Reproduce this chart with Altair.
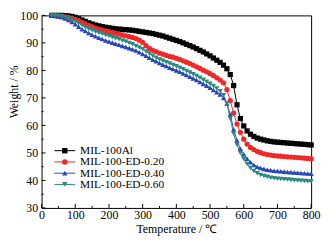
import altair as alt
import pandas as pd

temps = list(range(30, 801, 10))

mil100al = [100, 100, 100, 100, 99.9, 99.8, 99.6, 99.3, 98.8, 98.3,
            97.8, 97.3, 96.9, 96.5, 96.2, 95.9, 95.7, 95.5, 95.3, 95.1,
            95.0, 94.9, 94.8, 94.7, 94.6, 94.4, 94.2, 94.0, 93.8, 93.6,
            93.4, 93.1, 92.8, 92.5, 92.1, 91.7, 91.3, 90.9, 90.5, 90.0,
            89.5, 89.0, 88.5, 87.9, 87.3, 86.7, 86.0, 85.3, 84.5, 83.7,
            82.9, 81.9, 80.6, 78.5, 74.5, 67.5, 62.5, 59.8, 58.0, 56.8,
            56.0, 55.4, 55.0, 54.7, 54.4, 54.2, 54.0, 53.9, 53.8, 53.7,
            53.6, 53.5, 53.4, 53.3, 53.2, 53.1, 53.0, 52.9]

ed020 = [100, 99.9, 99.8, 99.7, 99.5, 99.3, 99.0, 98.6, 98.1, 97.5,
         96.9, 96.4, 95.9, 95.4, 95.0, 94.7, 94.4, 94.1, 93.8, 93.5,
         93.2, 92.9, 92.6, 92.3, 92.0, 91.6, 91.0, 90.2, 89.0, 88.0,
         87.3, 86.8, 86.3, 85.9, 85.5, 85.1, 84.8, 84.4, 84.0, 83.5,
         83.0, 82.5, 81.9, 81.3, 80.7, 80.1, 79.5, 78.8, 78.1, 77.3,
         76.5, 75.5, 73.0, 69.0, 64.5, 60.5, 57.5, 55.0, 53.2, 52.0,
         51.2, 50.6, 50.1, 49.7, 49.4, 49.2, 49.0, 48.9, 48.8, 48.7,
         48.6, 48.5, 48.4, 48.3, 48.2, 48.1, 48.0, 47.9]

ed040 = [100, 99.8, 99.6, 99.3, 98.9, 98.3, 97.6, 96.8, 95.9, 95.0,
         94.3, 93.6, 93.0, 92.4, 91.9, 91.4, 90.9, 90.5, 90.1, 89.7,
         89.3, 88.9, 88.5, 88.1, 87.7, 87.2, 86.6, 86.0, 85.3, 84.6,
         83.9, 83.3, 82.7, 82.1, 81.6, 81.0, 80.5, 80.0, 79.5, 78.9,
         78.3, 77.7, 77.1, 76.5, 75.8, 75.1, 74.4, 73.7, 72.9, 72.1,
         71.2, 70.0, 68.0, 64.0, 58.5, 54.5, 51.5, 49.5, 47.9, 46.6,
         45.6, 45.0, 44.5, 44.2, 43.9, 43.7, 43.5, 43.4, 43.3, 43.2,
         43.1, 43.0, 42.9, 42.8, 42.7, 42.6, 42.5, 42.4]

ed060 = [100, 99.9, 99.8, 99.6, 99.3, 98.9, 98.4, 97.8, 97.1, 96.4,
         95.7, 95.1, 94.6, 94.1, 93.7, 93.3, 92.9, 92.5, 92.1, 91.7,
         91.3, 90.9, 90.5, 90.0, 89.5, 88.9, 88.3, 87.7, 86.9, 86.1,
         85.3, 84.6, 84.0, 83.5, 83.0, 82.5, 82.0, 81.5, 81.0, 80.4,
         79.8, 79.2, 78.6, 78.0, 77.3, 76.6, 75.9, 75.1, 74.3, 73.4,
         72.4, 71.0, 68.0, 62.5, 57.0, 53.0, 50.0, 47.8, 46.0, 44.5,
         43.4, 42.6, 42.0, 41.6, 41.3, 41.0, 40.8, 40.6, 40.5, 40.4,
         40.3, 40.2, 40.1, 40.0, 39.9, 39.8, 39.7, 39.6]

series_names = ["MIL-100Al", "MIL-100-ED-0.20", "MIL-100-ED-0.40", "MIL-100-ED-0.60"]
series_values = [mil100al, ed020, ed040, ed060]
series_colors = ["#000000", "#f02828", "#2846b4", "#2a8a80"]
series_shapes = ["square", "circle", "triangle-up", "triangle-down"]

x_major = list(range(0, 801, 100))
x_minor = list(range(50, 801, 100))
y_major = list(range(30, 101, 10))
y_minor = list(range(35, 101, 10))

W, H = 273, 195
FONT = "Liberation Serif"

rows = []
for name, vals in zip(series_names, series_values):
    for t, v in zip(temps, vals):
        rows.append({"series": name, "T": t, "w": v})
df = pd.DataFrame(rows)

xs = alt.Scale(domain=[0, 800], nice=False, zero=False)
ys = alt.Scale(domain=[30, 100], nice=False, zero=False)
xaxis = alt.Axis(values=x_major, tickSize=0, labelPadding=2, grid=False,
                 labelOverlap=False, labelFlush=False,
                 title="Temperature / ℃", titlePadding=3, domain=False)
yaxis = alt.Axis(values=y_major, tickSize=0, labelPadding=4, grid=False,
                 labelOverlap=False, labelFlush=False,
                 title="Weight / %", domain=False, titleX=-28, titleY=77,
                 titleAngle=270, titleBaseline="middle", titleAlign="center")

lines = alt.layer(*[
    alt.Chart(df[df.series == n]).mark_line(color=c, strokeWidth=1).encode(
        x=alt.X("T:Q", scale=xs, axis=xaxis),
        y=alt.Y("w:Q", scale=ys, axis=yaxis),
    ) for n, c in zip(series_names, series_colors)
])
points = alt.layer(*[
    alt.Chart(df[df.series == n]).mark_point(color=c, shape=s, filled=True, size=28, opacity=1).encode(
        x=alt.X("T:Q", scale=xs, axis=xaxis), y=alt.Y("w:Q", scale=ys, axis=yaxis))
    for n, c, s in zip(series_names, series_colors, series_shapes)
])

xt_major = alt.Chart(pd.DataFrame({"T": x_major})).mark_rule(color="black", strokeWidth=1).encode(
    x=alt.X("T:Q", scale=xs, axis=xaxis), y=alt.value(H), y2=alt.value(H - 4))
xt_minor = alt.Chart(pd.DataFrame({"T": x_minor})).mark_rule(color="black", strokeWidth=1).encode(
    x=alt.X("T:Q", scale=xs, axis=xaxis), y=alt.value(H), y2=alt.value(H - 2))
yt_major = alt.Chart(pd.DataFrame({"w": y_major})).mark_rule(color="black", strokeWidth=1).encode(
    y=alt.Y("w:Q", scale=ys, axis=yaxis), x=alt.value(0), x2=alt.value(4))
yt_minor = alt.Chart(pd.DataFrame({"w": y_minor})).mark_rule(color="black", strokeWidth=1).encode(
    y=alt.Y("w:Q", scale=ys, axis=yaxis), x=alt.value(0), x2=alt.value(2))

leg_layers = []
for i, (n, c, s) in enumerate(zip(series_names, series_colors, series_shapes)):
    ly = 137 + i * 11.4
    d = pd.DataFrame({"name": [n]})
    leg_layers.append(alt.Chart(d).mark_rule(color=c, strokeWidth=1).encode(
        x=alt.value(13), x2=alt.value(34), y=alt.value(ly)))
    leg_layers.append(alt.Chart(d).mark_point(color=c, shape=s, filled=True, size=30, opacity=1).encode(
        x=alt.value(23.5), y=alt.value(ly)))
    leg_layers.append(alt.Chart(d).mark_text(align="left", baseline="middle", font=FONT,
                                             fontSize=11.5, color="black").encode(
        x=alt.value(39), y=alt.value(ly + 0.5), text="name:N"))

chart = alt.layer(lines, points, xt_major, xt_minor, yt_major, yt_minor, *leg_layers).properties(
    width=W, height=H,
    autosize=alt.AutoSizeParams(type="none"),
    padding={"left": 34, "top": 6, "right": 10, "bottom": 32},
).configure_view(stroke="black", strokeWidth=1).configure_axis(
    labelFont=FONT, titleFont=FONT, labelFontSize=12, titleFontSize=12,
    labelColor="black", titleColor="black", titleFontWeight="normal",
    labelOverlap=False,
)

chart.save("out.html", embed_options={"renderer": "svg", "actions": False})
